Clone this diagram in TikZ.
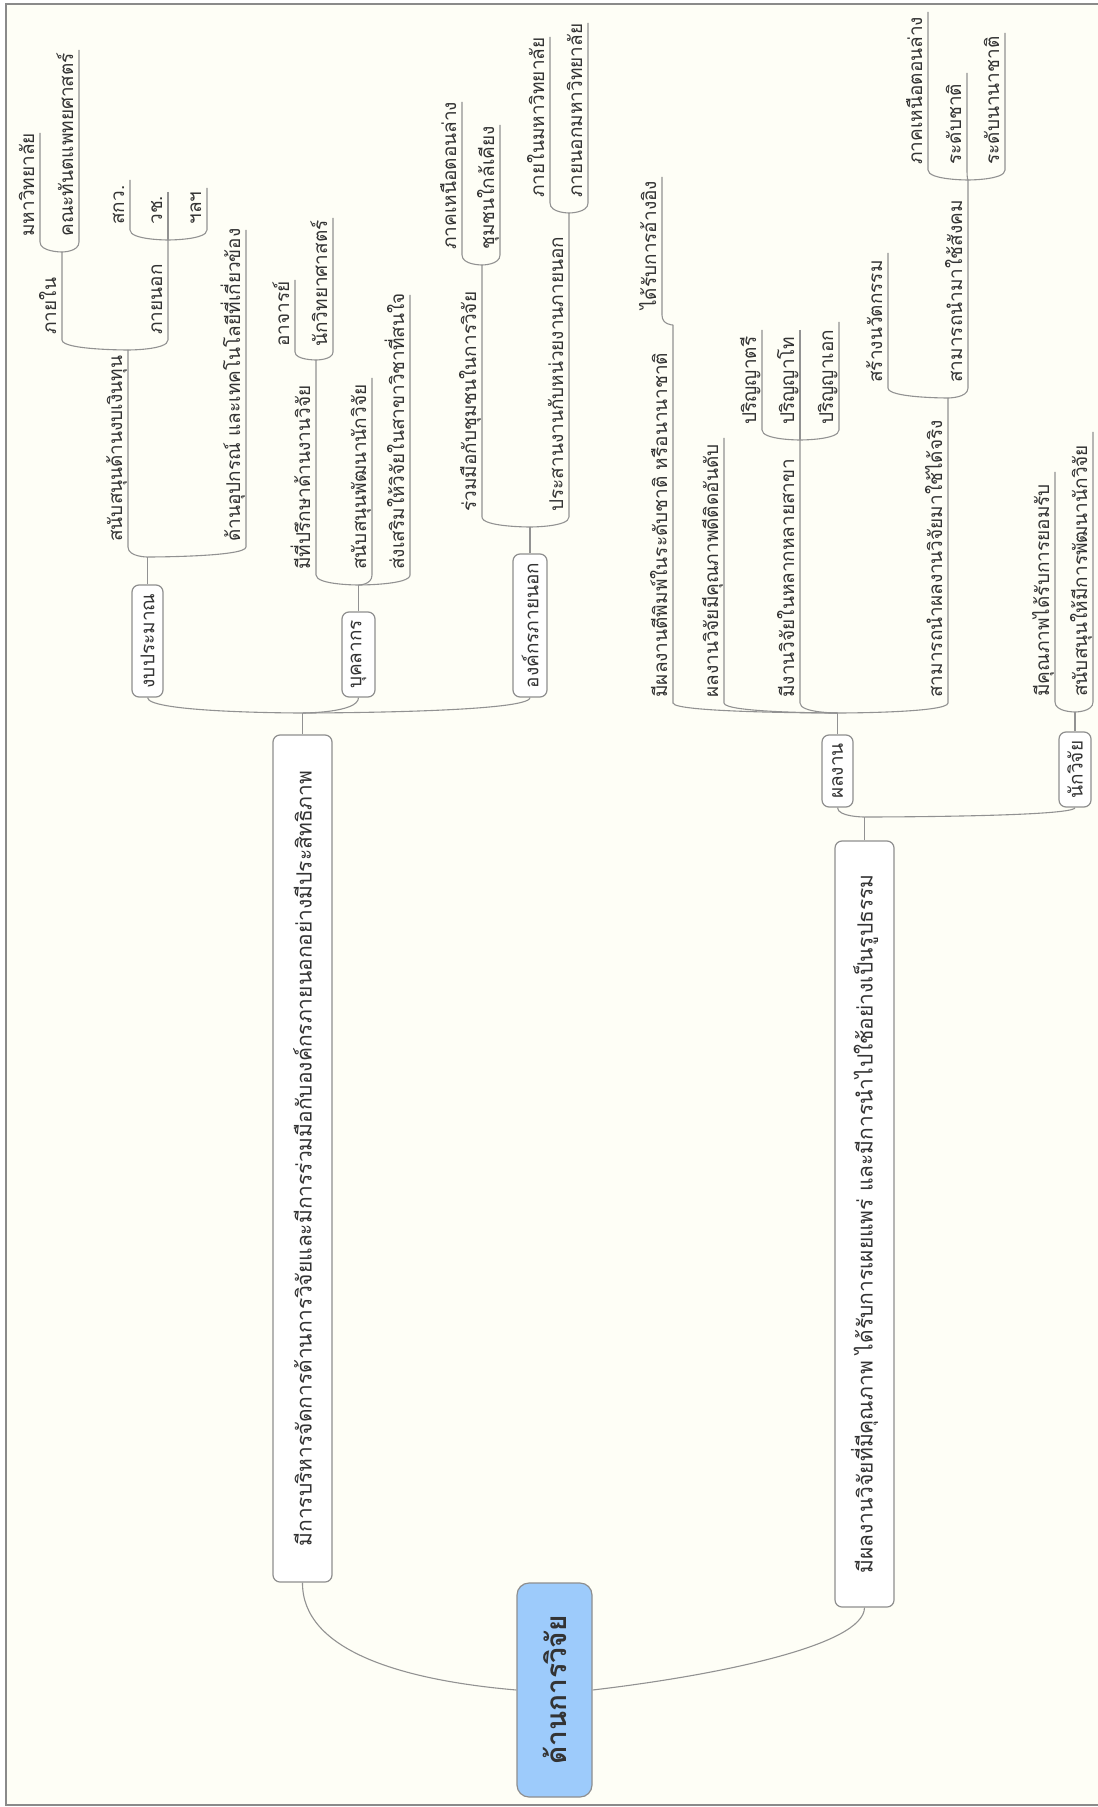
\documentclass[tikz,border=0pt]{standalone}
\usepackage{fontspec}
\newfontfamily\thaifont[Script=Thai]{Loma}
\usetikzlibrary{calc}
\definecolor{bgc}{HTML}{FEFEF6}
\definecolor{linec}{HTML}{929292}
\definecolor{boxc}{HTML}{8E8E8E}
\definecolor{rootc}{HTML}{9DCBFB}
\definecolor{txtc}{HTML}{333333}
\definecolor{bordc}{HTML}{8A8A8A}
\tikzset{
  lbl/.style={rotate=90, anchor=base west, inner sep=0pt, text=txtc,
    font=\thaifont\fontsize{9.5}{11}\selectfont},
  topic/.style={rotate=90, draw=boxc, fill=white, rounded corners=3.5pt, inner sep=0pt,
    line width=0.6pt, text=txtc, font=\thaifont\fontsize{9.5}{11}\selectfont},
  maintopic/.style={topic, font=\thaifont\fontsize{10.5}{12}\selectfont},
  roottopic/.style={topic, fill=rootc, rounded corners=6pt,
    font=\thaifont\bfseries\fontsize{14}{16}\selectfont},
  conn/.style={draw=linec, line width=0.55pt},
}
% #1 name, #2 line x, #3 line bottom y, #4 line top y, #5 parent junction, #6 text
\newcommand\ulnode[6]{%
  \coordinate (#1-b) at (#2,#3);
  \coordinate (#1-t) at (#2,#4);
  \node[lbl] (#1) at ({#2-6},{#3-5}) {#6};
  \draw[conn] (#1-t) -- (#1-b) .. controls (#1-b |- #5) and (#5) .. (#5);
}
\begin{document}
\begin{tikzpicture}[x=0.5pt,y=-0.5pt]
\useasboundingbox (0,0) rectangle (1097,1807);
\fill[white] (0,0) rectangle (1097,1807);
\fill[bgc] (6,4) rectangle (1102,1805);
\draw[bordc, line width=0.8pt] (6,4) rectangle (1102,1805);

% ---------- main topics ----------
\node[roottopic, minimum width=107pt, minimum height=37.5pt] (root) at (554.5,1690) {ด้านการวิจัย};
\node[maintopic, minimum width=423.5pt, minimum height=29.5pt] (b1) at (302.5,1158.5)
  {มีการบริหารจัดการด้านการวิจัยและมีการร่วมมือกับองค์กรภายนอกอย่างมีประสิทธิภาพ};
\node[maintopic, minimum width=383pt, minimum height=29.5pt] (b2) at (864.5,1224)
  {มีผลงานวิจัยที่มีคุณภาพ ได้รับการเผยแพร่ และมีการนำไปใช้อย่างเป็นรูปธรรม};

\draw[conn] (b1.west) .. controls (302,1650) and (400,1680) .. (root.north);
\draw[conn] (root.south) .. controls (720,1675) and (864,1645) .. (b2.west);

\coordinate (j1) at (302.5,713);
\coordinate (j2) at (864.5,817);
\draw[conn] (b1.east) -- (j1);
\draw[conn] (b2.east) -- (j2);

% ---------- branch 1 boxes ----------
\node[topic, minimum width=56pt, minimum height=15.5pt] (budget) at (147.5,641) {งบประมาณ};
\node[topic, minimum width=42.5pt, minimum height=16.5pt] (staff) at (358.5,654.5) {บุคลากร};
\node[topic, minimum width=71.5pt, minimum height=17pt] (org) at (530,625.5) {องค์กรภายนอก};
\foreach \n in {budget,staff,org}
  \draw[conn] (\n.west) .. controls (\n.west |- j1) and (j1) .. (j1);

\coordinate (jbud) at (147.5,557);
\coordinate (jstaff) at (358.5,585);
\coordinate (jorg) at (530,527);
\draw[conn] (budget.east) -- (jbud);
\draw[conn] (staff.east) -- (jstaff);
\draw[conn] (org.east) -- (jorg);

% budget subtree
\ulnode{fund}{128}{547}{350}{jbud}{สนับสนุนด้านงบเงินทุน}
\ulnode{equip}{246}{547}{230}{jbud}{ด้านอุปกรณ์ และเทคโนโลยีที่เกี่ยวข้อง}
\ulnode{inside}{62}{340}{252}{fund-t}{ภายใน}
\ulnode{outside}{168}{340}{240}{fund-t}{ภายนอก}
\ulnode{univ}{40}{242}{133}{inside-t}{มหาวิทยาลัย}
\ulnode{dent}{79}{242}{50}{inside-t}{คณะทันตแพทยศาสตร์}
\ulnode{trf}{130}{230}{180}{outside-t}{สกว.}
\ulnode{nrct}{168}{230}{192}{outside-t}{วช.}
\ulnode{etc}{207}{230}{188}{outside-t}{ฯลฯ}

% staff subtree
\ulnode{advisor}{316}{575}{360}{jstaff}{มีที่ปรึกษาด้านงานวิจัย}
\ulnode{develop}{372}{575}{378}{jstaff}{สนับสนุนพัฒนานักวิจัย}
\ulnode{promote}{410}{575}{295}{jstaff}{ส่งเสริมให้วิจัยในสาขาวิชาที่สนใจ}
\ulnode{teacher}{295}{352}{280}{advisor-t}{อาจารย์}
\ulnode{scient}{333}{352}{218}{advisor-t}{นักวิทยาศาสตร์}

% org subtree
\ulnode{comm}{482}{517}{265}{jorg}{ร่วมมือกับชุมชนในการวิจัย}
\ulnode{coord}{569}{517}{213}{jorg}{ประสานงานกับหน่วยงานภายนอก}
\ulnode{northa}{462}{255}{102}{comm-t}{ภาคเหนือตอนล่าง}
\ulnode{near}{500}{255}{125}{comm-t}{ชุมชนใกล้เคียง}
\ulnode{inuni}{550}{203}{37}{coord-t}{ภายในมหาวิทยาลัย}
\ulnode{outuni}{588}{203}{23}{coord-t}{ภายนอกมหาวิทยาลัย}

% ---------- branch 2 boxes ----------
\node[topic, minimum width=36pt, minimum height=15.5pt] (work) at (837.5,771) {ผลงาน};
\node[topic, minimum width=37.5pt, minimum height=16pt] (res) at (1075,769.5) {นักวิจัย};
\foreach \n in {work,res}
  \draw[conn] (\n.west) .. controls (\n.west |- j2) and (j2) .. (j2);
\coordinate (jwork) at (837.5,713);
\coordinate (jres) at (1075,712);
\draw[conn] (work.east) -- (jwork);
\draw[conn] (res.east) -- (jres);

% work subtree
\ulnode{pub}{673}{703}{325}{jwork}{มีผลงานตีพิมพ์ในระดับชาติ หรือนานาชาติ}
\ulnode{quality}{724}{703}{438}{jwork}{ผลงานวิจัยมีคุณภาพดีติดอันดับ}
\ulnode{multi}{800}{703}{440}{jwork}{มีงานวิจัยในหลากหลายสาขา}
\ulnode{apply}{948}{703}{398}{jwork}{สามารถนำผลงานวิจัยมาใช้ได้จริง}
\ulnode{cited}{662}{315}{177}{pub-t}{ได้รับการอ้างอิง}
\ulnode{bach}{762}{430}{330}{multi-t}{ปริญญาตรี}
\ulnode{mast}{800}{430}{330}{multi-t}{ปริญญาโท}
\ulnode{doct}{839}{430}{322}{multi-t}{ปริญญาเอก}
\ulnode{innov}{888}{388}{253}{apply-t}{สร้างนวัตกรรม}
\ulnode{society}{968}{388}{180}{apply-t}{สามารถนำมาใช้สังคม}
\ulnode{northb}{928}{170}{12}{society-t}{ภาคเหนือตอนล่าง}
\ulnode{national}{967}{170}{73}{society-t}{ระดับชาติ}
\ulnode{intl}{1005}{170}{33}{society-t}{ระดับนานาชาติ}

% researcher subtree
\ulnode{accept}{1055}{702}{472}{jres}{มีคุณภาพได้รับการยอมรับ}
\ulnode{support}{1093}{702}{432}{jres}{สนับสนุนให้มีการพัฒนานักวิจัย}
\end{tikzpicture}
\end{document}
